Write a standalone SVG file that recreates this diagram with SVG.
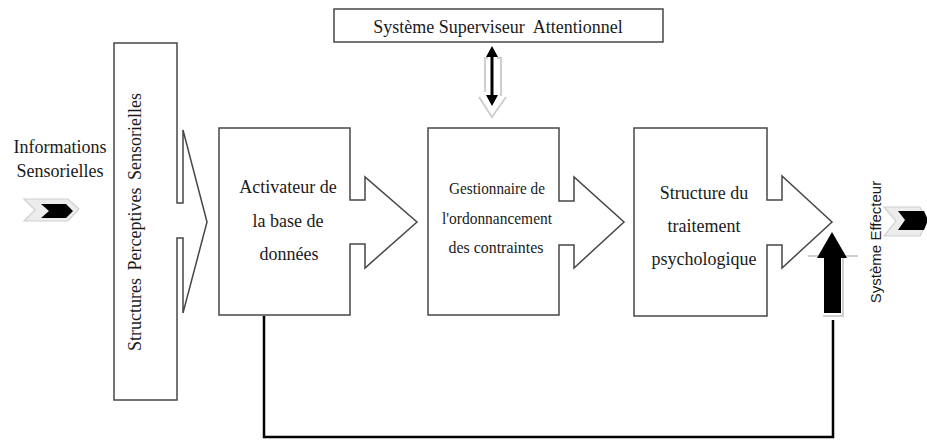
<svg xmlns="http://www.w3.org/2000/svg" width="927" height="441" viewBox="0 0 927 441">
<style>
.box{fill:#fff;stroke:#474747;stroke-width:1.5;stroke-linejoin:miter}
.t{font-family:"Liberation Serif","Times New Roman",serif;font-size:18px;fill:#1a1a1a;text-anchor:middle}
.ts{font-size:17px}
.sans{font-family:"Liberation Sans",Arial,sans-serif;font-size:15px;fill:#1a1a1a;text-anchor:middle}
.shadow{fill:#ececec;stroke:#cfcfcf;stroke-width:1.2}
.gl{fill:none;stroke:#cfcfcf;stroke-width:2}
</style>
<rect width="927" height="441" fill="#fff"/>
<g id="informations">
<text class="t" x="60" y="153">Informations</text>
<text class="t" x="60" y="177">Sensorielles</text>
</g>
<g id="structures-perceptives">
<path class="box" d="M114,43 H177 V203 H183 V130 L207,222 L183,313 V238 H177 V400 H114 Z"/>
<text class="t" transform="translate(141,222) rotate(-90)" font-size="20" word-spacing="3">Structures Perceptives Sensorielles</text>
</g>
<g id="activateur">
<path class="box" d="M219,128 H350 V200 H365 V177 L417,222 L365,268 V244 H350 V315 H219 Z"/>
<text class="t" x="288" y="193">Activateur de</text>
<text class="t" x="288" y="227">la base de</text>
<text class="t" x="289" y="260">données</text>
</g>
<g id="superviseur">
<rect class="box" x="334" y="9" width="329" height="33"/>
<text class="t" x="498" y="33" xml:space="preserve">Système Superviseur  Attentionnel</text>
</g>
<g id="gestionnaire">
<path class="box" d="M428,128 H559 V201 H574 V177 L624,222 L574,268 V245 H559 V315 H428 Z"/>
<text class="t ts" x="497" y="194" textLength="96" lengthAdjust="spacingAndGlyphs">Gestionnaire de</text>
<text class="t ts" x="497" y="224" textLength="110" lengthAdjust="spacingAndGlyphs">l'ordonnancement</text>
<text class="t ts" x="496" y="253" textLength="95" lengthAdjust="spacingAndGlyphs">des contraintes</text>
</g>
<g id="structure-traitement">
<path class="box" d="M634,128 H767 V200 H782 V176 L832,222 L782,268 V245 H767 V316 H634 Z"/>
<text class="t" x="704" y="199">Structure du</text>
<text class="t" x="704" y="232">traitement</text>
<text class="t" x="704" y="265">psychologique</text>
</g>
<g id="effecteur">
<text class="sans" transform="translate(881,242) rotate(-90)">Système Effecteur</text>
</g>
<g id="connectors">
<polygon class="shadow" points="24,199 68,199 79,209 68,221 24,221 35,210"/>
<polygon fill="#000" points="41,204 66,204 73,211 66,218 41,218 49,211"/>
<polygon class="shadow" points="884,207 920,207 927,222 920,236 884,236 896,221"/>
<polygon fill="#000" points="898,211 924,211 928,220 924,230 898,230 905,220"/>
<path class="gl" d="M485,92 V58 H488 M497,58 H501 V96 M479,97 L492,117 L506,97" stroke-width="1.5"/>
<line x1="492" y1="54" x2="492" y2="98" stroke="#000" stroke-width="3"/>
<polygon fill="#000" points="492,46 486,57 498,57"/>
<polygon fill="#000" points="492,106 486,95 498,95"/>
<path class="gl" d="M808,256 H823 M843,256 H858 M843,256 V316 H823"/>
<polygon fill="#000" points="824,313 824,258 817,258 832,232 847,258 841,258 841,313"/>
<path d="M264,316 V437 H833 V320" fill="none" stroke="#000" stroke-width="2.5"/>
</g>
</svg>
